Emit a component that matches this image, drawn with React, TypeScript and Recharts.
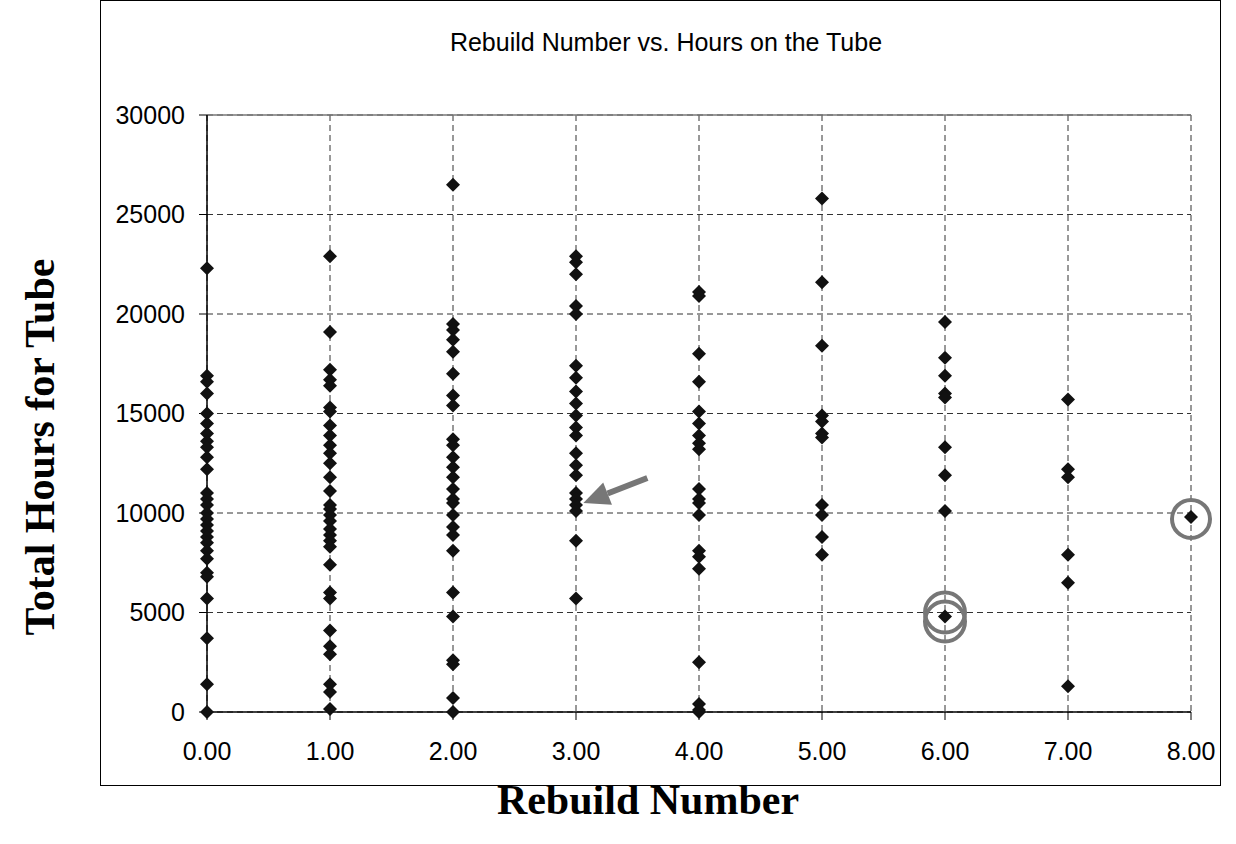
import { ScatterChart, Scatter, XAxis, YAxis, CartesianGrid, ReferenceLine, ReferenceDot } from 'recharts';

// hours on the tube, grouped by rebuild number
const rebuild0 = [22300, 16900, 16600, 16000, 15000, 14500, 14000, 13600, 13300, 12800, 12200, 11000, 10700, 10400, 10000, 9700, 9400, 9100, 8800, 8500, 8100, 7700, 7000, 6800, 5700, 3700, 1400, 0];
const rebuild1 = [22900, 19100, 17200, 16700, 16400, 15300, 15100, 14400, 13900, 13400, 13000, 12500, 11800, 11100, 10400, 10200, 9900, 9600, 9200, 8900, 8600, 8300, 7400, 6000, 5700, 4100, 3300, 2900, 1400, 1000, 150];
const rebuild2 = [26500, 19500, 19200, 18700, 18100, 17000, 15900, 15400, 13700, 13400, 12800, 12300, 11800, 11200, 10700, 10500, 9900, 9300, 8900, 8100, 6000, 4800, 2600, 2400, 700, 0];
const rebuild3 = [22900, 22600, 22000, 20400, 20000, 17400, 16800, 16100, 15500, 14900, 14300, 13900, 13000, 12400, 11900, 11000, 10700, 10400, 10100, 8600, 5700];
const rebuild4 = [21100, 20900, 18000, 16600, 15100, 14500, 13900, 13500, 13200, 11200, 10700, 10500, 9900, 8100, 7800, 7200, 2500, 400, 100, 0];
const rebuild5 = [25800, 21600, 18400, 14900, 14600, 14000, 13800, 10400, 9900, 8800, 7900];
const rebuild6 = [19600, 17800, 16900, 16000, 15800, 13300, 11900, 10100, 4800];
const rebuild7 = [15700, 12200, 11800, 7900, 6500, 1300];
const rebuild8 = [9800];

const groups = [rebuild0, rebuild1, rebuild2, rebuild3, rebuild4, rebuild5, rebuild6, rebuild7, rebuild8];

const xTicks = [0, 1, 2, 3, 4, 5, 6, 7, 8];
const yTicks = [0, 5000, 10000, 15000, 20000, 25000, 30000];

const points = groups.flatMap((hours, n) => hours.map((h) => ({ rebuild: n, hours: h })));

// annotation arrow (tail -> tip) and highlighted points
const arrowTail = { x: 3.58, y: 11760 };
const arrowTip = { x: 3.06, y: 10500 };
const circled = [
  { x: 6, y: 5000, r: 20 },
  { x: 6, y: 4550, r: 20 },
  { x: 8, y: 9700, r: 19 },
];

const Diamond = (props: any) => {
  const { cx, cy } = props;
  const r = 7;
  return <polygon points={`${cx},${cy - r} ${cx + r},${cy} ${cx},${cy + r} ${cx - r},${cy}`} fill="#111" />;
};

const Arrow = (props: any) => {
  const { x1, y1, x2, y2 } = props;
  const dx = x2 - x1;
  const dy = y2 - y1;
  const len = Math.sqrt(dx * dx + dy * dy);
  const ux = dx / len;
  const uy = dy / len;
  const headLen = 26;
  const headW = 12;
  const bx = x2 - ux * headLen;
  const by = y2 - uy * headLen;
  return (
    <g>
      <line x1={x1} y1={y1} x2={bx} y2={by} stroke="#777" strokeWidth={6} />
      <polygon
        points={`${x2},${y2} ${bx - uy * headW},${by + ux * headW} ${bx + uy * headW},${by - ux * headW}`}
        fill="#777"
      />
    </g>
  );
};

const tickStyle = { fill: '#000', fontSize: 25, fontFamily: 'Arial, "Liberation Sans", sans-serif' };

export default function App() {
  return (
    <div style={{ position: 'absolute', left: 0, top: 0, width: 1236, height: 844, background: '#fff' }}>
      <div
        style={{
          position: 'absolute',
          left: 100,
          top: 0,
          width: 1121,
          height: 786,
          border: '1.5px solid #000',
          boxSizing: 'border-box',
        }}
      />
      <div
        style={{
          position: 'absolute',
          left: 100,
          width: 1132,
          top: 30,
          lineHeight: 1,
          textAlign: 'center',
          fontFamily: 'Arial, "Liberation Sans", sans-serif',
          fontSize: 25,
          color: '#000',
        }}
      >
        Rebuild Number vs. Hours on the Tube
      </div>
      <div
        style={{
          position: 'absolute',
          left: 40,
          top: 447,
          transform: 'translate(-50%, -50%) rotate(-90deg)',
          whiteSpace: 'nowrap',
          fontFamily: '"Times New Roman", "Liberation Serif", serif',
          fontWeight: 'bold',
          fontSize: 42,
          color: '#000',
        }}
      >
        Total Hours for Tube
      </div>
      <div
        style={{
          position: 'absolute',
          left: 0,
          width: 1296,
          top: 776,
          textAlign: 'center',
          fontFamily: '"Times New Roman", "Liberation Serif", serif',
          fontWeight: 'bold',
          fontSize: 42,
          color: '#000',
        }}
      >
        Rebuild Number
      </div>
      <div style={{ position: 'absolute', left: 0, top: 0 }}>
        <ScatterChart width={1236} height={844} margin={{ top: 115, right: 45, bottom: 92, left: 100 }}>
          <CartesianGrid stroke="#333" strokeDasharray="6 4" />
          <XAxis
            type="number"
            dataKey="rebuild"
            domain={[0, 8]}
            ticks={xTicks}
            interval={0}
            tickFormatter={(v: number) => v.toFixed(2)}
            height={40}
            tickSize={8}
            tickMargin={22}
            tick={tickStyle}
            stroke="#000"
            tickLine={{ stroke: '#000' }}
            axisLine={{ stroke: '#000', strokeWidth: 1.5 }}
          />
          <YAxis
            type="number"
            dataKey="hours"
            domain={[0, 30000]}
            ticks={yTicks}
            interval={0}
            width={107}
            tickSize={8}
            tickMargin={14}
            tick={tickStyle}
            stroke="#000"
            tickLine={{ stroke: '#000' }}
            axisLine={{ stroke: '#000', strokeWidth: 1.5 }}
          />
          <ReferenceLine y={30000} stroke="#777" strokeWidth={1.5} />
          <Scatter data={points} shape={Diamond} isAnimationActive={false} />
          <ReferenceLine segment={[arrowTail, arrowTip]} shape={Arrow} />
          {circled.map((c, i) => (
            <ReferenceDot key={i} x={c.x} y={c.y} r={c.r} fill="none" stroke="#777" strokeWidth={4} />
          ))}
        </ScatterChart>
      </div>
    </div>
  );
}
